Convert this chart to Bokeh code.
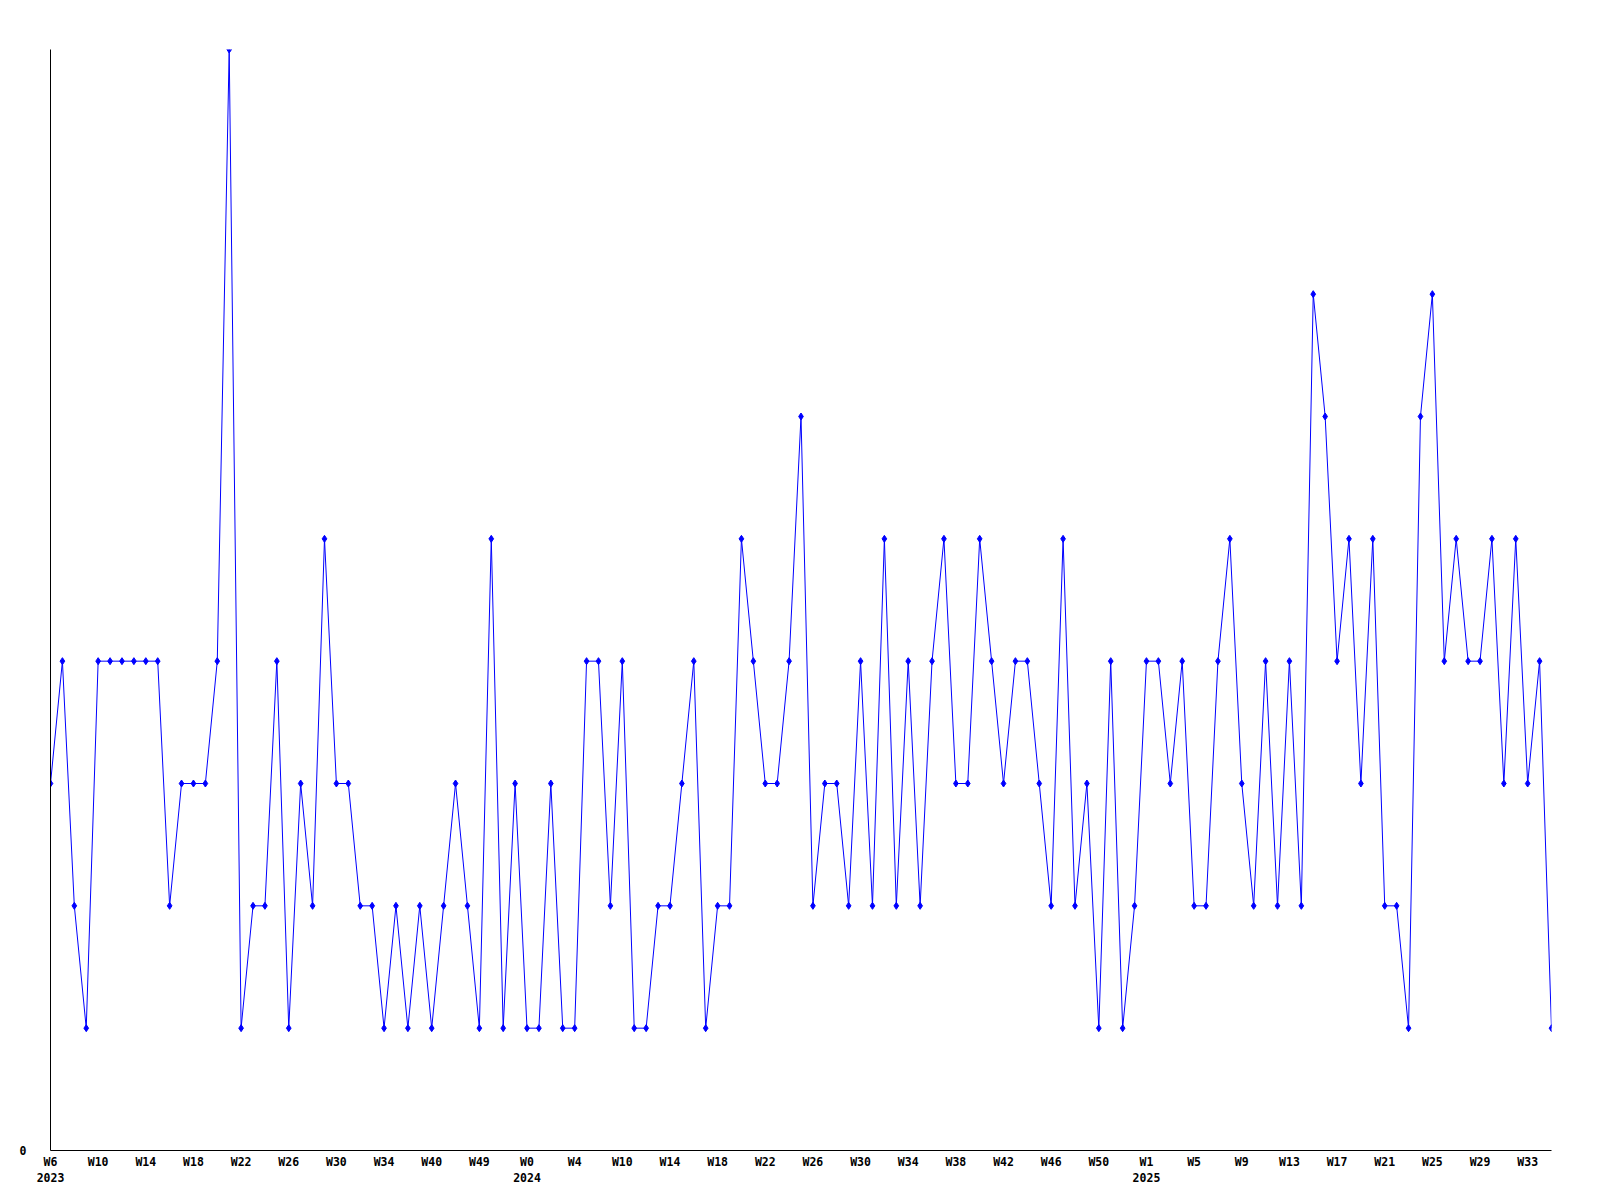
from bokeh.plotting import figure
from bokeh.models import FixedTicker, Range1d
from bokeh.embed import file_html
from bokeh.resources import INLINE

# weekly counts, one per data point
values = [3, 4, 2, 1, 4, 4, 4, 4, 4, 4, 2, 3, 3, 3, 4, 9, 1, 2, 2, 4, 1, 3, 2,
          5, 3, 3, 2, 2, 1, 2, 1, 2, 1, 2, 3, 2, 1, 5, 1, 3, 1, 1, 3, 1, 1, 4, 4,
          2, 4, 1, 1, 2, 2, 3, 4, 1, 2, 2, 5, 4, 3, 3, 4, 6, 2, 3, 3, 2, 4, 2, 5,
          2, 4, 2, 4, 5, 3, 3, 5, 4, 3, 4, 4, 3, 2, 5, 2, 3, 1, 4, 1, 2, 4, 4, 3,
          4, 2, 2, 4, 5, 3, 2, 4, 2, 4, 2, 7, 6, 4, 5, 3, 5, 2, 2, 1, 6, 7, 4, 5,
          4, 4, 5, 3, 5, 3, 4, 1]

# labelled weeks (every 4th point) and their years
week_labels = ["W6", "W10", "W14", "W18", "W22", "W26", "W30", "W34", "W40", "W49",
               "W0", "W4", "W10", "W14", "W18", "W22", "W26", "W30", "W34", "W38",
               "W42", "W46", "W50",
               "W1", "W5", "W9", "W13", "W17", "W21", "W25", "W29", "W33"]
week_years = ["2023"] * 10 + ["2024"] * 13 + ["2025"] * 9
label_step = 4

x = list(range(len(values)))
ticks = [i * label_step for i in range(len(week_labels))]
overrides = {}
prev_year = None
for t, w, yr in zip(ticks, week_labels, week_years):
    overrides[t] = f"{w}\n{yr}" if yr != prev_year else w
    prev_year = yr

p = figure(width=1592, height=1192, output_backend="svg", toolbar_location=None,
           x_range=Range1d(0, len(values) - 1), y_range=Range1d(0, max(values)),
           min_border_left=50, min_border_top=49, min_border_right=41,
           min_border_bottom=42)
p.outline_line_color = None
p.xgrid.visible = False
p.ygrid.visible = False

p.line(x, values, line_color="#0000ff", line_width=1)
p.scatter(x, values, marker="diamond", size=7, color="#0000ff")

font = "DejaVu Sans Mono"
p.xaxis.ticker = FixedTicker(ticks=ticks)
p.xaxis.major_label_overrides = overrides
p.yaxis.ticker = FixedTicker(ticks=[0])
for ax in (p.xaxis[0], p.yaxis[0]):
    ax.axis_line_color = "black"
    ax.axis_line_width = 1
    ax.major_tick_line_color = None
    ax.minor_tick_line_color = None
    ax.major_tick_out = 0
    ax.major_tick_in = 0
    ax.major_label_text_font = font
    ax.major_label_text_font_style = "bold"
    ax.major_label_text_font_size = "11.5px"
    ax.major_label_text_color = "black"
p.xaxis.major_label_standoff = 4
p.yaxis.major_label_standoff = 24

open("out.html", "w").write(file_html(p, INLINE))
